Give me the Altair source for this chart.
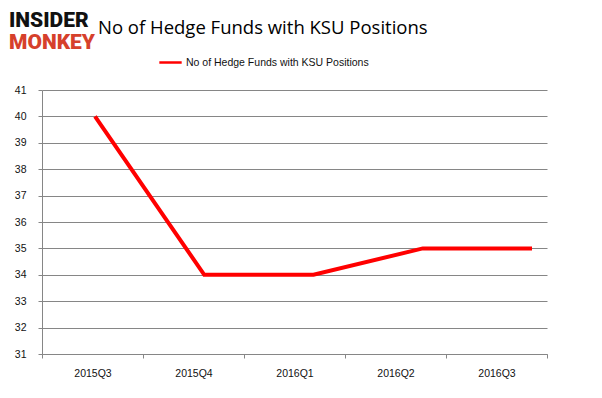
import altair as alt
import pandas as pd

quarters = ["2015Q3", "2015Q4", "2016Q1", "2016Q2", "2016Q3"]
funds = [40, 34, 34, 35, 35]
series_name = "No of Hedge Funds with KSU Positions"
title_text = "No of Hedge Funds with KSU Positions"
logo_top = "INSIDER"
logo_bottom = "MONKEY"
y_ticks = list(range(31, 42))

df = pd.DataFrame({"quarter": quarters, "funds": funds, "series": [series_name] * len(quarters)})

axis_font = "Liberation Sans"
y_scale = alt.Scale(domain=[31, 41], nice=False, zero=False)
y_axis = alt.Axis(
    title=None, values=y_ticks, grid=True, gridColor="#868686", gridWidth=1,
    tickSize=4, labelPadding=12, domainColor="#868686", tickColor="#868686",
    labelColor="#111111", labelFontSize=10.5, labelFont=axis_font,
)

axes = alt.Chart(df).mark_point(opacity=0).encode(
    x=alt.X(
        "quarter:N",
        sort=quarters,
        scale=alt.Scale(type="band", paddingInner=0, paddingOuter=0),
        axis=alt.Axis(
            title=None, tickBand="extent", grid=False, tickSize=4, labelPadding=10,
            domainColor="#868686", tickColor="#868686", labelColor="#111111",
            labelFontSize=10.5, labelFont=axis_font, labelAngle=0,
        ),
    ),
    y=alt.Y("funds:Q", scale=y_scale, axis=y_axis),
)

line = alt.Chart(df).mark_line(strokeWidth=4, strokeCap="butt").encode(
    x=alt.X(
        "quarter:N",
        sort=quarters,
        scale=alt.Scale(type="point", padding=0, range=[53, 490]),
        axis=None,
    ),
    y=alt.Y("funds:Q", scale=y_scale, axis=y_axis),
    color=alt.Color(
        "series:N",
        scale=alt.Scale(range=["#ff0000"]),
        legend=alt.Legend(
            title=None, orient="none", legendX=116, legendY=-40,
            symbolType="stroke", symbolStrokeWidth=2.5, symbolSize=500,
            labelFontSize=10.5, labelFont=axis_font, labelColor="#111111",
            labelLimit=400, labelOffset=3,
        ),
    ),
)

tdf = pd.DataFrame({"t": [title_text]})
title = alt.Chart(tdf).mark_text(
    align="left", baseline="alphabetic", fontSize=18.5, font="Open Sans", color="#000000"
).encode(text="t:N", x=alt.value(56), y=alt.value(-56))

ldf1 = pd.DataFrame({"t": [logo_top]})
logo1 = alt.Chart(ldf1).mark_text(
    align="left", baseline="alphabetic", fontSize=21, font="Roboto",
    fontWeight=900, color="#111111"
).encode(text="t:N", x=alt.value(-33), y=alt.value(-63))

ldf2 = pd.DataFrame({"t": [logo_bottom]})
logo2 = alt.Chart(ldf2).mark_text(
    align="left", baseline="alphabetic", fontSize=21, font="Roboto",
    fontWeight=900, color="#d6402b"
).encode(text="t:N", x=alt.value(-33), y=alt.value(-41))

chart = alt.layer(axes, line, title, logo1, logo2).resolve_scale(x="independent").properties(
    width=505, height=264,
    autosize=alt.AutoSizeParams(type="none"),
    padding={"left": 34, "top": 82, "right": 40, "bottom": 36},
    background="white",
).configure_view(stroke=None)

chart.save("out.html", embed_options={"renderer": "svg", "actions": False})
